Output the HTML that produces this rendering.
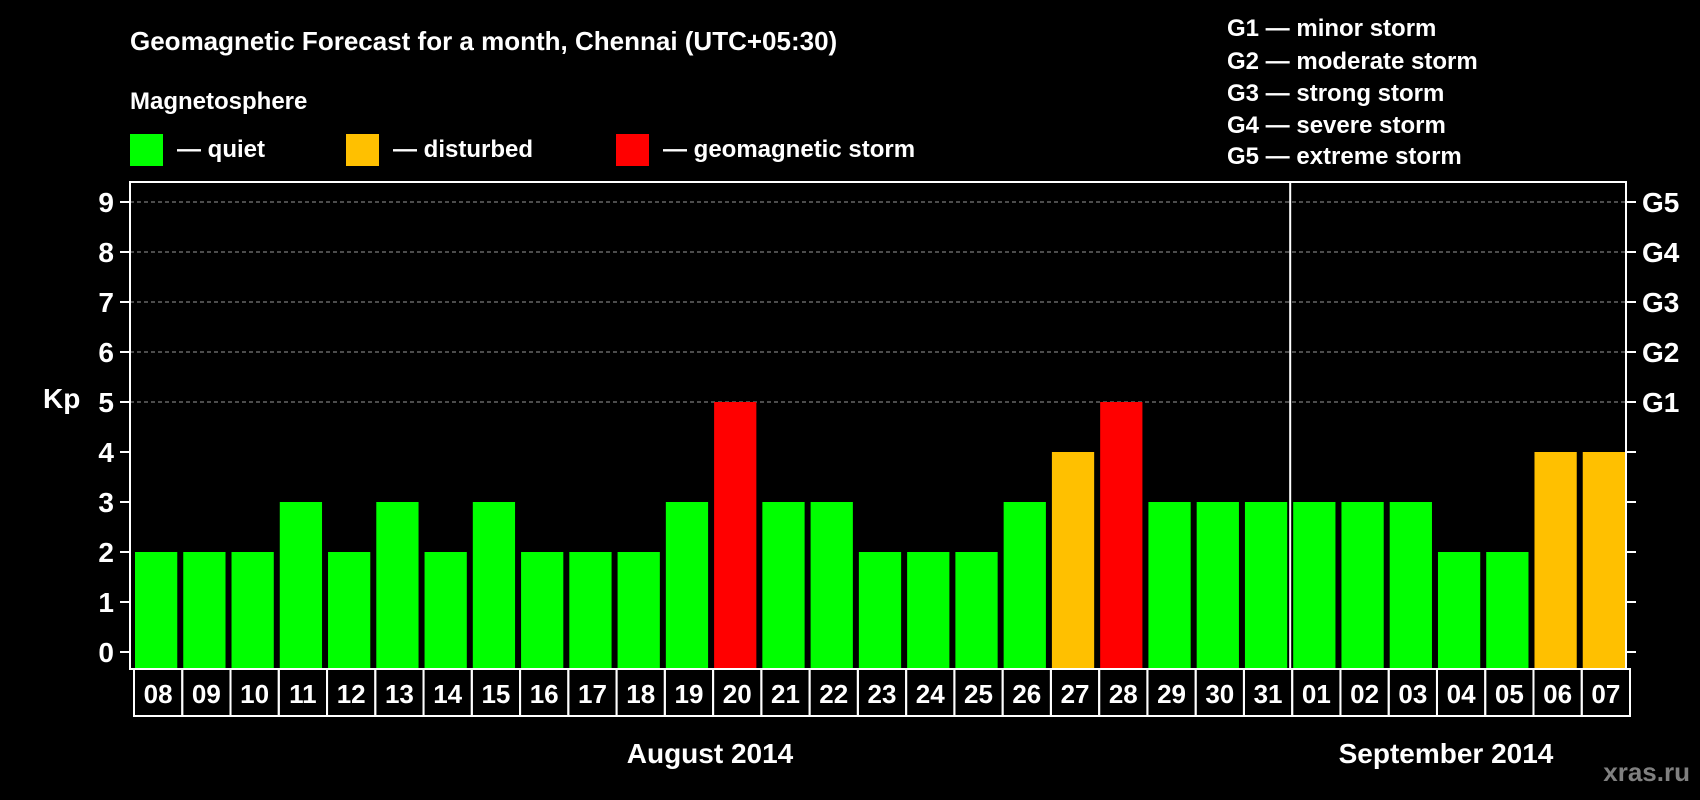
<!DOCTYPE html>
<html><head><meta charset="utf-8"><style>
html,body{margin:0;padding:0;background:#000;width:1700px;height:800px;overflow:hidden}
svg text{font-family:"Liberation Sans",Arial,sans-serif;font-weight:bold;fill:#fff}
</style></head><body>
<svg id="chart" width="1700" height="800" viewBox="0 0 1700 800" xmlns="http://www.w3.org/2000/svg">
<rect width="1700" height="800" fill="#000"/>
<text x="130" y="50" font-size="26">Geomagnetic Forecast for a month, Chennai (UTC+05:30)</text>
<text x="130" y="109" font-size="24">Magnetosphere</text>
<g><rect x="130" y="134" width="33" height="32" fill="#00ff00"/><text x="177" y="157" font-size="24">— quiet</text></g>
<g><rect x="346" y="134" width="33" height="32" fill="#ffc000"/><text x="393" y="157" font-size="24">— disturbed</text></g>
<g><rect x="616" y="134" width="33" height="32" fill="#ff0000"/><text x="663" y="157" font-size="24">— geomagnetic storm</text></g>
<g font-size="24">
<text x="1227" y="36">G1 — minor storm</text>
<text x="1227" y="69">G2 — moderate storm</text>
<text x="1227" y="101">G3 — strong storm</text>
<text x="1227" y="133">G4 — severe storm</text>
<text x="1227" y="164">G5 — extreme storm</text>
</g>
<text x="43" y="408" font-size="28">Kp</text>
<g id="grid"></g><g id="bars"></g><g id="axes"></g><g id="days"></g>
<text x="710" y="763" font-size="28" text-anchor="middle">August 2014</text>
<text x="1446" y="763" font-size="28" text-anchor="middle">September 2014</text>
<text x="1690" y="781" font-size="26" text-anchor="end" style="fill:#808080">xras.ru</text>
</svg>
<script>
const days = ["08","09","10","11","12","13","14","15","16","17","18","19","20","21","22","23","24","25","26","27","28","29","30","31","01","02","03","04","05","06","07"];
const kpValues = [2,2,2,3,2,3,2,3,2,2,2,3,5,3,3,2,2,2,3,4,5,3,3,3,3,3,3,2,2,4,4];
const yTicks = [0,1,2,3,4,5,6,7,8,9];
const gLabels = ["","","","","","G1","G2","G3","G4","G5"];
const monthSplitIndex = 24;

const NS="http://www.w3.org/2000/svg";
const L=130,R=1626,T=182,B=669,Y0=652,UNIT=50;
const step=(R-L)/days.length;
const y=v=>Y0-v*UNIT;
const x=i=>L+i*step;
function mk(tag,attrs,parent,txt){const e=document.createElementNS(NS,tag);for(const k in attrs)e.setAttribute(k,attrs[k]);if(txt!==undefined)e.textContent=txt;parent.appendChild(e);return e;}
const grid=document.getElementById('grid'),bars=document.getElementById('bars'),axes=document.getElementById('axes'),dayG=document.getElementById('days');
yTicks.forEach(v=>{
  if(v>=5){const g=mk('line',{x1:L,x2:R,y1:y(v),y2:y(v),stroke:'#999','stroke-dasharray':'4,3','stroke-width':1},grid);
    
    }
  mk('line',{x1:L-10,x2:L,y1:y(v),y2:y(v),stroke:'#fff','stroke-width':2},axes);
  mk('line',{x1:R,x2:R+10,y1:y(v),y2:y(v),stroke:'#fff','stroke-width':2},axes);
  const t=mk('text',{x:L-16,y:y(v)+10,'font-size':28,'text-anchor':'end'},axes,String(v));
  
  
  if(gLabels[v]){const g=mk('text',{x:R+16,y:y(v)+10,'font-size':28},axes,gLabels[v]);
    
    }
});
kpValues.forEach((v,i)=>{
  const c=v>=5?'#ff0000':(v>=4?'#ffc000':'#00ff00');
  const r=mk('rect',{x:x(i)+5,y:y(v),width:step-6,height:B-y(v),fill:c},bars);
  
  
  const b=mk('rect',{x:x(i)+4,y:B,width:step,height:47,fill:'none',stroke:'#fff','stroke-width':2},dayG);
  
  
  const t=mk('text',{x:x(i)+4+step/2,y:B+34,'font-size':26,'text-anchor':'middle'},dayG,days[i]);
  
  
});
const fr=mk('rect',{x:L,y:T,width:R-L,height:B-T,fill:'none',stroke:'#fff','stroke-width':2},axes);


const d=mk('line',{x1:x(monthSplitIndex)+2,x2:x(monthSplitIndex)+2,y1:T,y2:B,stroke:'#fff','stroke-width':2},axes);


</script>
</body></html>
